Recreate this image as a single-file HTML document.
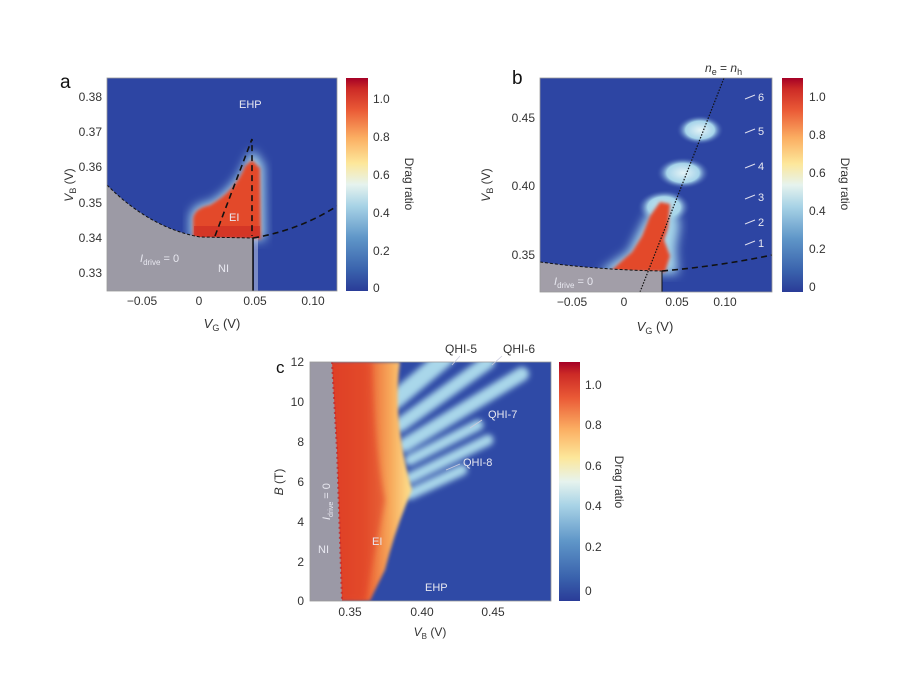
<!DOCTYPE html>
<html><head><meta charset="utf-8"><style>
body{margin:0;background:#fff;}
svg{display:block;font-family:"Liberation Sans",sans-serif;}
.t{font-size:12px;fill:#333;}
.w{fill:#e8e8f0;font-size:11px;}
</style></head><body>
<svg width="911" height="694" viewBox="0 0 911 694">
<defs>
<linearGradient id="cm" x1="0" y1="1" x2="0" y2="0">
<stop offset="0" stop-color="#2a3c98"/>
<stop offset="0.1" stop-color="#3a63ad"/>
<stop offset="0.25" stop-color="#5f96c8"/>
<stop offset="0.4" stop-color="#a8d3e6"/>
<stop offset="0.5" stop-color="#e6f3ee"/>
<stop offset="0.6" stop-color="#fde79a"/>
<stop offset="0.72" stop-color="#fbae62"/>
<stop offset="0.85" stop-color="#ea5a36"/>
<stop offset="0.95" stop-color="#cc2a26"/>
<stop offset="1" stop-color="#a50026"/>
</linearGradient>
<radialGradient id="bl"><stop offset="0" stop-color="#e4f3f6"/><stop offset="0.6" stop-color="#a6d4ea"/><stop offset="1" stop-color="#2d45a3" stop-opacity="0"/></radialGradient>
<filter id="b3"><feGaussianBlur stdDeviation="3"/></filter>
<filter id="b5"><feGaussianBlur stdDeviation="5"/></filter>
<filter id="b2"><feGaussianBlur stdDeviation="1.5"/></filter>
<linearGradient id="cg" x1="0" y1="0" x2="1" y2="0">
<stop offset="0" stop-color="#dd3a26"/><stop offset="0.45" stop-color="#e95a30"/>
<stop offset="0.75" stop-color="#f7a85a"/><stop offset="1" stop-color="#fde390"/>
</linearGradient>
<clipPath id="ca"><rect x="107" y="78" width="230" height="213"/></clipPath>
<clipPath id="cb"><rect x="540" y="78" width="232" height="214"/></clipPath>
<clipPath id="cc"><rect x="310" y="362" width="241" height="239"/></clipPath>
</defs>

<!-- Panel a -->
<text x="60" y="88" font-size="19" fill="#111">a</text>
<g clip-path="url(#ca)">
<rect x="107" y="78" width="230" height="213" fill="#2d45a3"/>
<path d="M190,240 L190,216 Q193,204 210,202 Q236,186 246,160 L253,150 L264,165 L265,240 Z" fill="#a6d6ea" filter="url(#b5)"/>
<path d="M193,239 L193,218 Q195,208 210,205 Q236,190 245,166 L252,160 L260,168 L261,239 Z" fill="#e3482c" filter="url(#b2)"/>
<rect x="194" y="226" width="66" height="12" fill="#c92a24" opacity="0.6"/>
<path d="M107,185 Q150,228 200,237 L253,238 L253,291 L107,291 Z" fill="#9c9aa5"/>
<rect x="254" y="238" width="4" height="53" fill="#c8d0ea" opacity="0.5"/>
<path d="M107,185 Q150,228 200,237 L253,238" fill="none" stroke="#111" stroke-width="1" stroke-dasharray="3,2"/>
<path d="M253,238 Q300,230 337,206" fill="none" stroke="#111" stroke-width="1.6" stroke-dasharray="6,4"/>
<path d="M215,236 L252,139 L252,236" fill="none" stroke="#111" stroke-width="1.6" stroke-dasharray="6,4"/>
<line x1="253" y1="238" x2="253" y2="291" stroke="#111" stroke-width="1.5"/>
</g>
<rect x="107" y="78" width="230" height="213" fill="none" stroke="#999" stroke-width="0.8"/>
<text x="239" y="108" class="w" font-size="12">EHP</text>
<text x="229" y="221" class="w" font-size="12">EI</text>
<text x="218" y="272" class="w" font-size="12">NI</text>
<text x="140" y="262" class="w" font-size="12"><tspan font-style="italic">I</tspan><tspan font-size="8" dy="3">drive</tspan><tspan dy="-3"> = 0</tspan></text>
<g class="t" text-anchor="end">
<text x="102" y="101">0.38</text><text x="102" y="136">0.37</text><text x="102" y="171">0.36</text>
<text x="102" y="207">0.35</text><text x="102" y="242">0.34</text><text x="102" y="277">0.33</text>
</g>
<g class="t" text-anchor="middle">
<text x="142" y="305">−0.05</text><text x="199" y="305">0</text><text x="255" y="305">0.05</text><text x="313" y="305">0.10</text>
<text x="222" y="328" font-size="13"><tspan font-style="italic">V</tspan><tspan font-size="9" dy="3">G</tspan><tspan dy="-3"> (V)</tspan></text>
</g>
<text transform="translate(73,185) rotate(-90)" class="t" font-size="13" text-anchor="middle"><tspan font-style="italic">V</tspan><tspan font-size="9" dy="3">B</tspan><tspan dy="-3"> (V)</tspan></text>
<rect x="346" y="78" width="22" height="213" fill="url(#cm)"/>
<g class="t"><text x="373" y="103">1.0</text><text x="373" y="141">0.8</text><text x="373" y="179">0.6</text><text x="373" y="217">0.4</text><text x="373" y="255">0.2</text><text x="373" y="292">0</text></g>
<text transform="translate(405,184) rotate(90)" class="t" font-size="13" text-anchor="middle">Drag ratio</text>

<!-- Panel b -->
<text x="512" y="84" font-size="19" fill="#111">b</text>
<g clip-path="url(#cb)">
<rect x="540" y="78" width="232" height="214" fill="#2d45a3"/>
<ellipse cx="700" cy="130" rx="24" ry="15" fill="url(#bl)"/>
<ellipse cx="683" cy="173" rx="27" ry="16" fill="url(#bl)"/>
<ellipse cx="664" cy="207" rx="27" ry="17" fill="url(#bl)"/>
<path d="M598,274 Q612,262 628,252 L640,228 L652,206 L672,198 L680,225 L676,248 L678,274 Z" fill="#a6d6ea" filter="url(#b5)"/>
<path d="M610,272 Q620,262 632,252 L642,236 L650,216 L660,202 L670,204 L668,228 L664,240 L670,256 L665,272 Z" fill="#e3482c" filter="url(#b2)"/>
<path d="M540,262 Q600,270 662,271 L662,292 L540,292 Z" fill="#a29ea8"/>
<path d="M540,262 Q600,270 662,271" fill="none" stroke="#111" stroke-dasharray="3,2"/>
<path d="M662,271 Q720,266 772,255" fill="none" stroke="#111" stroke-width="1.6" stroke-dasharray="6,4"/>
<line x1="662" y1="271" x2="662" y2="292" stroke="#111"/>
<line x1="640" y1="292" x2="724" y2="78" stroke="#111" stroke-width="1.2" stroke-dasharray="1.5,1.5"/>
</g>
<rect x="540" y="78" width="232" height="214" fill="none" stroke="#999" stroke-width="0.8"/>
<text x="554" y="285" class="w" font-size="12"><tspan font-style="italic">I</tspan><tspan font-size="8" dy="3">drive</tspan><tspan dy="-3"> = 0</tspan></text>
<g class="w" font-size="12">
<text x="758" y="101">6</text><text x="758" y="135">5</text><text x="758" y="170">4</text><text x="758" y="201">3</text><text x="758" y="226">2</text><text x="758" y="247">1</text>
</g>
<g stroke="#dde" stroke-width="1">
<line x1="745" y1="99" x2="755" y2="95"/><line x1="745" y1="133" x2="755" y2="129"/><line x1="745" y1="168" x2="755" y2="164"/><line x1="745" y1="199" x2="755" y2="195"/><line x1="745" y1="224" x2="755" y2="220"/><line x1="745" y1="245" x2="755" y2="241"/>
</g>
<text x="705" y="72" class="t" font-size="13"><tspan font-style="italic">n</tspan><tspan font-size="9" dy="3">e</tspan><tspan dy="-3"> = </tspan><tspan font-style="italic">n</tspan><tspan font-size="9" dy="3">h</tspan></text>
<g class="t" text-anchor="end">
<text x="535" y="122">0.45</text><text x="535" y="190">0.40</text><text x="535" y="259">0.35</text>
</g>
<g class="t" text-anchor="middle">
<text x="572" y="306">−0.05</text><text x="624" y="306">0</text><text x="677" y="306">0.05</text><text x="725" y="306">0.10</text>
<text x="655" y="331" font-size="13"><tspan font-style="italic">V</tspan><tspan font-size="9" dy="3">G</tspan><tspan dy="-3"> (V)</tspan></text>
</g>
<text transform="translate(490,185) rotate(-90)" class="t" font-size="13" text-anchor="middle"><tspan font-style="italic">V</tspan><tspan font-size="9" dy="3">B</tspan><tspan dy="-3"> (V)</tspan></text>
<rect x="782" y="78" width="21" height="214" fill="url(#cm)"/>
<g class="t"><text x="809" y="101">1.0</text><text x="809" y="139">0.8</text><text x="809" y="177">0.6</text><text x="809" y="215">0.4</text><text x="809" y="253">0.2</text><text x="809" y="291">0</text></g>
<text transform="translate(841,184) rotate(90)" class="t" font-size="13" text-anchor="middle">Drag ratio</text>

<!-- Panel c -->
<text x="276" y="373" font-size="17" fill="#111">c</text>
<g clip-path="url(#cc)">
<rect x="310" y="362" width="241" height="239" fill="#2f4aa6"/>
<g stroke="#a9d7ea" stroke-linecap="round" fill="none" filter="url(#b3)">
<line x1="395" y1="400" x2="445" y2="358" stroke-width="18"/>
<line x1="400" y1="425" x2="488" y2="362" stroke-width="14"/>
<line x1="405" y1="445" x2="522" y2="374" stroke-width="14"/>
<line x1="410" y1="460" x2="478" y2="425" stroke-width="11"/>
<line x1="410" y1="478" x2="488" y2="440" stroke-width="11"/>
<line x1="410" y1="494" x2="462" y2="470" stroke-width="11"/>
</g>
<path d="M325,362 L400,362 Q392,420 412,490 Q395,530 385,570 Q375,590 370,601 L325,601 Z" fill="url(#cg)" filter="url(#b2)"/>
<path d="M325,362 L372,362 Q374,450 385,500 Q375,550 365,601 L325,601 Z" fill="#df4028" opacity="0.6" filter="url(#b3)"/>
<path d="M310,362 L332,362 L337,450 L342,601 L310,601 Z" fill="#9b99a6"/>
<path d="M332,362 L337,450 L342,601" fill="none" stroke="#c0282a" stroke-width="2" stroke-dasharray="2,3" opacity="0.8"/>
</g>
<rect x="310" y="362" width="241" height="239" fill="none" stroke="#999" stroke-width="0.8"/>
<g class="w" font-size="10">
<text x="318" y="553">NI</text><text x="372" y="545">EI</text><text x="425" y="591">EHP</text>
<text x="488" y="418">QHI-7</text><text x="463" y="466">QHI-8</text>
</g>
<text transform="translate(330,520) rotate(-90)" class="w" font-size="10"><tspan font-style="italic">I</tspan><tspan font-size="7" dy="3">drive</tspan><tspan dy="-3"> = 0</tspan></text>
<g stroke="#ccd" stroke-width="0.8"><line x1="470" y1="428" x2="482" y2="420"/><line x1="446" y1="470" x2="460" y2="464"/><line x1="452" y1="365" x2="460" y2="356"/><line x1="492" y1="365" x2="502" y2="356"/></g>
<g class="t" font-size="10"><text x="445" y="353">QHI-5</text><text x="503" y="353">QHI-6</text></g>
<g class="t" font-size="11" text-anchor="end">
<text x="304" y="366">12</text><text x="304" y="406">10</text><text x="304" y="446">8</text><text x="304" y="486">6</text><text x="304" y="526">4</text><text x="304" y="566">2</text><text x="304" y="605">0</text>
</g>
<g class="t" font-size="11" text-anchor="middle">
<text x="350" y="616">0.35</text><text x="422" y="616">0.40</text><text x="493" y="616">0.45</text>
<text x="430" y="636" font-size="12"><tspan font-style="italic">V</tspan><tspan font-size="8" dy="3">B</tspan><tspan dy="-3"> (V)</tspan></text>
</g>
<text transform="translate(283,482) rotate(-90)" class="t" font-size="12" text-anchor="middle"><tspan font-style="italic">B</tspan> (T)</text>
<rect x="559" y="362" width="21" height="239" fill="url(#cm)"/>
<g class="t" font-size="11"><text x="585" y="389">1.0</text><text x="585" y="429">0.8</text><text x="585" y="470">0.6</text><text x="585" y="510">0.4</text><text x="585" y="551">0.2</text><text x="585" y="595">0</text></g>
<text transform="translate(615,482) rotate(90)" class="t" font-size="12" text-anchor="middle">Drag ratio</text>
</svg>
</body></html>
